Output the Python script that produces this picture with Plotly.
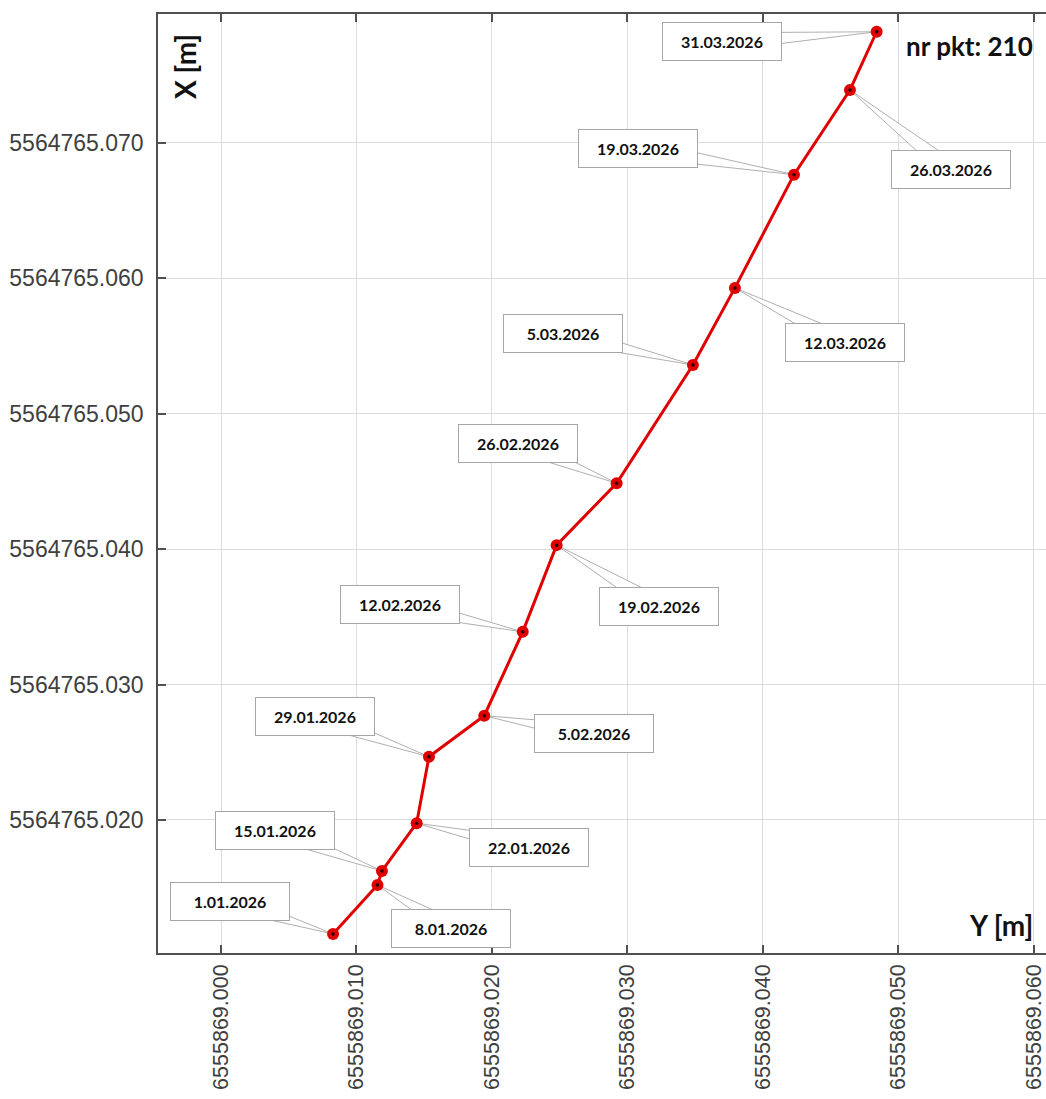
import plotly.graph_objects as go

# ---- data ----
dates = ["1.01.2026", "8.01.2026", "15.01.2026", "22.01.2026", "29.01.2026",
         "5.02.2026", "12.02.2026", "19.02.2026", "26.02.2026", "5.03.2026",
         "12.03.2026", "19.03.2026", "26.03.2026", "31.03.2026"]
coord_Y = [6555869.00827, 6555869.01155, 6555869.01188, 6555869.01444, 6555869.01535,
           6555869.01943, 6555869.02227, 6555869.02477, 6555869.02920, 6555869.03483,
           6555869.03793, 6555869.04229, 6555869.04642, 6555869.04839]
coord_X = [5564765.01159, 5564765.01520, 5564765.01624, 5564765.01976, 5564765.02467,
           5564765.02770, 5564765.03389, 5564765.04029, 5564765.04486, 5564765.05359,
           5564765.05928, 5564765.06764, 5564765.07389, 5564765.07819]
x_ticks = [6555869.000, 6555869.010, 6555869.020, 6555869.030, 6555869.040,
           6555869.050, 6555869.060]
y_ticks = [5564765.020, 5564765.030, 5564765.040, 5564765.050, 5564765.060,
           5564765.070]
point_nr = "210"

# ---- label box offsets (pixels, box centre relative to point; +dy = down) ----
label_dx = [-103, 74, -107, 112, -114, 110, -123, 102, -99, -130, 110, -156, 101, -155]
label_dy = [-32, 43, -40, 24, -40, 18, -27, 61, -40, -31, 55, -26, 80, 10]

W, H = 1046, 1099
ML, MR, MT, MB = 158, 0, 14, 146
x_range = [6555868.99535, 6555869.06089]
y_range = [5564765.01018, 5564765.07950]
PW, PH = W - ML - MR, H - MT - MB
px_per_x = PW / (x_range[1] - x_range[0])
px_per_y = PH / (y_range[1] - y_range[0])

fig = go.Figure()
fig.add_trace(go.Scatter(
    x=coord_Y, y=coord_X, mode="lines+markers",
    line=dict(color="#e00000", width=3),
    marker=dict(size=12, color="#e00000", line=dict(width=0)),
    hoverinfo="skip", showlegend=False))
fig.add_trace(go.Scatter(
    x=coord_Y, y=coord_X, mode="markers",
    marker=dict(size=3.5, color="#200000"),
    hoverinfo="skip", showlegend=False))

shapes = []
annotations = []
for d, xv, yv, dx, dy in zip(dates, coord_Y, coord_X, label_dx, label_dy):
    # callout wedge (from box centre to point)
    L = (dx * dx + dy * dy) ** 0.5
    nx, ny = -dy / L, dx / L
    hw = 9
    bx1 = xv + (dx + nx * hw) / px_per_x
    by1 = yv - (dy + ny * hw) / px_per_y
    bx2 = xv + (dx - nx * hw) / px_per_x
    by2 = yv - (dy - ny * hw) / px_per_y
    shapes.append(dict(
        type="path", xref="x", yref="y", layer="between",
        path=f"M {bx1} {by1} L {xv} {yv} L {bx2} {by2} Z",
        fillcolor="white", line=dict(color="#9a9a9a", width=0.8)))
    annotations.append(dict(
        x=xv, y=yv, xref="x", yref="y", showarrow=False,
        xanchor="center", yanchor="middle",
        xshift=dx, yshift=-dy,
        text=f"<b>{d}</b>", font=dict(family="Lato", size=16, color="#111111"),
        width=116, height=35, align="center", valign="middle",
        bgcolor="white", bordercolor="#a6a6a6", borderwidth=1, borderpad=1))

annotations.append(dict(
    x=(185 - ML) / PW, y=1 - (67 - MT) / PH,
    xref="paper", yref="paper", showarrow=False, textangle=-90,
    xanchor="center", yanchor="middle",
    text="<b>X [m]</b>", font=dict(family="Lato", size=28, color="#111111")))
annotations.append(dict(
    x=(1001 - ML) / PW, y=1 - (925 - MT) / PH,
    xref="paper", yref="paper", showarrow=False,
    xanchor="center", yanchor="middle",
    text="<b>Y [m]</b>", font=dict(family="Lato", size=28, color="#111111")))
annotations.append(dict(
    x=(969 - ML) / PW, y=1 - (46 - MT) / PH,
    xref="paper", yref="paper", showarrow=False,
    xanchor="center", yanchor="middle",
    text=f"<b>nr pkt: {point_nr}</b>", font=dict(family="Lato", size=26, color="#111111")))

fig.update_layout(
    width=W, height=H,
    margin=dict(l=ML, r=MR, t=MT, b=MB, pad=0, autoexpand=False),
    paper_bgcolor="white", plot_bgcolor="white",
    shapes=shapes, annotations=annotations,
    xaxis=dict(range=x_range, tickvals=x_ticks, tickformat=".3f", tickangle=-90,
               automargin=False, ticklabeloverflow="allow",
               showgrid=True, gridcolor="#dcdcdc", gridwidth=1, zeroline=False,
               showline=True, linecolor="#505050", linewidth=1.5, mirror="ticks",
               ticks="inside", ticklen=8, tickcolor="#505050", tickwidth=1.5,
               ticklabelstandoff=1,
               tickfont=dict(family="Liberation Sans", size=21.5, color="#404040")),
    yaxis=dict(range=y_range, tickvals=y_ticks, tickformat=".3f",
               automargin=False, ticklabeloverflow="allow",
               showgrid=True, gridcolor="#dcdcdc", gridwidth=1, zeroline=False,
               showline=True, linecolor="#505050", linewidth=1.5,
               ticks="inside", ticklen=8, tickcolor="#505050", tickwidth=1.5,
               ticklabelstandoff=8,
               tickfont=dict(family="Liberation Sans", size=23, color="#404040")),
)

fig.write_html("out.html")
